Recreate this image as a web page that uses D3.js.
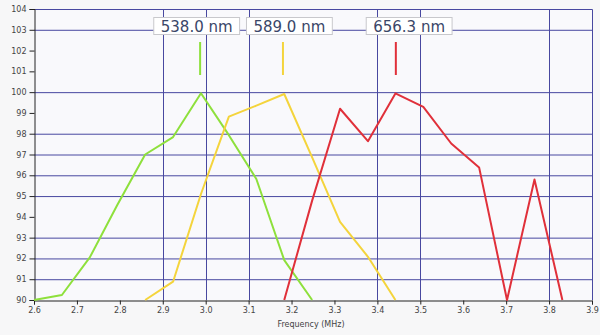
<!DOCTYPE html>
<html>
<head>
<meta charset="utf-8">
<script src="https://cdn.jsdelivr.net/npm/d3@7"></script>
<style>
  body { margin: 0; background: #f7f7f8; }
  svg { display: block; font-family: "DejaVu Sans", Verdana, sans-serif; }
</style>
</head>
<body>
<svg id="chart" width="600" height="335"></svg>
<script>
// frequency samples (MHz)
const freqs = [2.600, 2.665, 2.730, 2.794, 2.859, 2.924, 2.989, 3.054, 3.118, 3.183,
               3.248, 3.313, 3.378, 3.442, 3.507, 3.572, 3.637, 3.702, 3.766, 3.831];

const greenVals  = [90.0, 90.24, 92.05, 94.57, 97.0, 97.84, 99.95, 97.93, 95.82, 91.92, 90.0];
const yellowVals = [90.0, 90.88, 95.1, 98.82, 99.35, 99.91, 96.86, 93.76, 92.08, 90.0];
const redVals    = [90.0, 94.78, 99.2, 97.64, 99.94, 99.29, 97.53, 96.38, 90.0, 95.8, 90.0];

const series = [
  { name: "538.0 nm", color: "#8ee03c", start: 0,  values: greenVals,  marker: 2.987, labelAt: 2.979 },
  { name: "589.0 nm", color: "#f4d43c", start: 4,  values: yellowVals, marker: 3.180, labelAt: 3.195 },
  { name: "656.3 nm", color: "#e0303a", start: 9,  values: redVals,    marker: 3.443, labelAt: 3.474 }
];

const xTicks = [2.6, 2.7, 2.8, 2.9, 3.0, 3.1, 3.2, 3.3, 3.4, 3.5, 3.6, 3.7, 3.8, 3.9];
const yTicks = d3.range(90, 105);
const xGrid = [2.9, 3.0, 3.1, 3.4, 3.5, 3.8];
const yGrid = [91, 92, 93, 95, 96, 97, 98, 100, 103];

const svg = d3.select("#chart");
const margin = { left: 34, right: 8, top: 9, bottom: 35 };
const width = 600, height = 335;

const x = d3.scaleLinear().domain([2.6, 3.9]).range([margin.left, width - margin.right]);
const y = d3.scaleLinear().domain([90, 104]).range([height - margin.bottom, margin.top]);

const gridColor = "#4848a0";

svg.append("rect")
    .attr("x", x(2.6)).attr("y", y(104))
    .attr("width", x(3.9) - x(2.6)).attr("height", y(90) - y(104))
    .attr("fill", "#f9f9fc");

// grid
svg.selectAll(".hgrid")
    .data(yGrid)
    .enter()
    .append("line")
    .attr("x1", x(2.6)).attr("x2", x(3.9))
    .attr("y1", d => y(d) + 0.5).attr("y2", d => y(d) + 0.5)
    .attr("stroke", gridColor);

svg.selectAll(".vgrid")
    .data(xGrid)
    .enter()
    .append("line")
    .attr("x1", d => Math.round(x(d)) + 0.5).attr("x2", d => Math.round(x(d)) + 0.5)
    .attr("y1", y(104)).attr("y2", y(90))
    .attr("stroke", gridColor);

// top and right border
svg.append("path")
    .attr("d", `M${x(2.6)},${y(104) + 0.5}H${Math.round(x(3.9)) + 0.5}V${y(90)}`)
    .attr("fill", "none")
    .attr("stroke", gridColor);

// axes
const yAxis = d3.axisLeft(y).tickValues(yTicks).tickSize(5).tickPadding(3).tickFormat(d3.format("d"));
const xAxis = d3.axisBottom(x).tickValues(xTicks).tickSize(4).tickPadding(3).tickFormat(d3.format(".1f"));

const gy = svg.append("g")
    .attr("transform", `translate(${x(2.6) + 0.5},0)`)
    .call(yAxis);
const gx = svg.append("g")
    .attr("transform", `translate(0,${y(90) + 0.5})`)
    .call(xAxis);

[gy, gx].forEach(g => {
    g.select(".domain").attr("stroke", "#222");
    g.selectAll(".tick line").attr("stroke", "#222");
    g.selectAll("text")
        .attr("fill", "#444")
        .style("font-size", "8px")
        .style("font-family", "DejaVu Sans, Verdana, sans-serif");
});

svg.append("text")
    .attr("x", 311)
    .attr("y", 327)
    .attr("text-anchor", "middle")
    .attr("fill", "#444")
    .style("font-size", "8px")
    .text("Frequency (MHz)");

// series lines
const line = d3.line()
    .x(d => x(d[0]))
    .y(d => y(d[1]));

series.forEach(s => {
    const pts = s.values.map((v, i) => [freqs[s.start + i], v]);
    svg.append("path")
        .datum(pts)
        .attr("d", line)
        .attr("fill", "none")
        .attr("stroke", s.color)
        .attr("stroke-width", 2)
        .attr("stroke-linejoin", "round");
});

// wavelength markers and labels
series.forEach(s => {
    svg.append("line")
        .attr("x1", x(s.marker)).attr("x2", x(s.marker))
        .attr("y1", 42).attr("y2", 75)
        .attr("stroke", s.color)
        .attr("stroke-width", 2);

    const g = svg.append("g");
    const t = g.append("text")
        .attr("x", x(s.labelAt))
        .attr("y", 32)
        .attr("text-anchor", "middle")
        .attr("fill", "#3a4668")
        .style("font-size", "15px")
        .text(s.name);
    const w = t.node().getComputedTextLength() + 14;
    g.insert("rect", "text")
        .attr("x", x(s.labelAt) - w / 2)
        .attr("y", 17.5)
        .attr("width", w)
        .attr("height", 17)
        .attr("fill", "#ffffff")
        .attr("stroke", "#c8c8cc");
});
</script>
</body>
</html>
